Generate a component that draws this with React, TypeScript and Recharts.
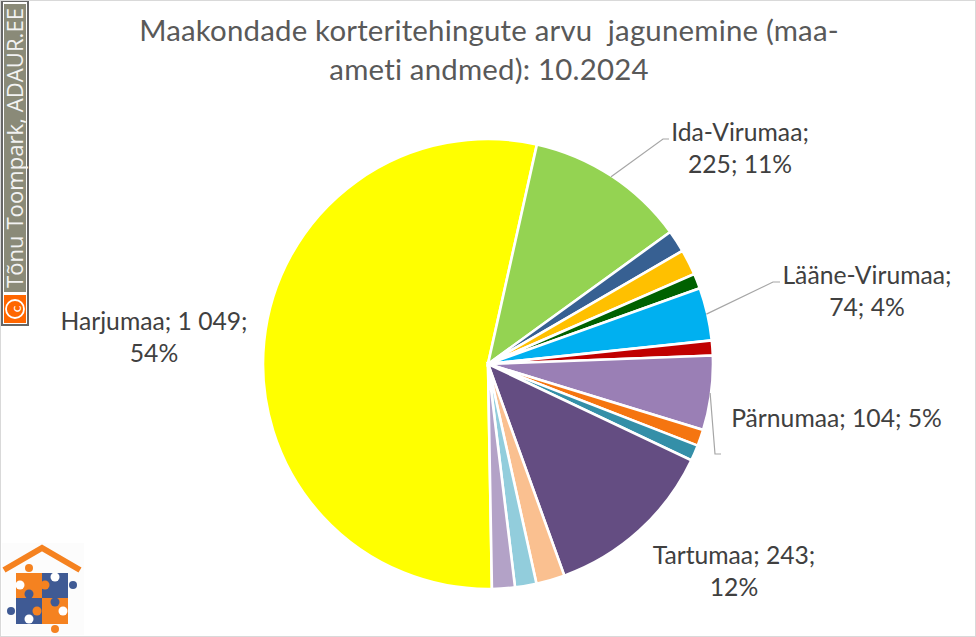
import React from "react";
import { PieChart, Pie, Cell } from "recharts";

const categories = ["Harjumaa","Ida-Virumaa","Jõgevamaa","Järvamaa","Läänemaa","Lääne-Virumaa","Põlvamaa","Pärnumaa","Raplamaa","Saaremaa","Tartumaa","Valgamaa","Viljandimaa","Võrumaa"];
const values = [1049,225,31,36,21,74,21,104,23,22,243,40,30,32];
const colors = ["#FFFF00","#94D352","#376092","#FFC000","#006100","#00B0F0","#C00000","#9A7FB5","#F57510","#348FA8","#644D82","#FAC090","#92CDDC","#B3A2C7"];
const titleLines = ["Maakondade korteritehingute arvu \u00A0jagunemine (maa-","ameti andmed): 10.2024"];
const data = categories.map((name, i) => ({ name, value: values[i] }));

const FONT = "Lato, Carlito, sans-serif";
const LABEL_COLOR = "#404040";

type Layout = { lines: string[]; x: number; y: number; elbow?: [number, number]; end?: [number, number] };
const labelLayout: Record<string, Layout> = {
  Harjumaa: { lines: ["Harjumaa; 1 049;", "54%"], x: 154, y: 323.5 },
  "Ida-Virumaa": { lines: ["Ida-Virumaa;", "225; 11%"], x: 740, y: 135 },
  "Lääne-Virumaa": { lines: ["Lääne-Virumaa;", "74; 4%"], x: 867, y: 278 },
  Pärnumaa: { lines: ["Pärnumaa; 104; 5%"], x: 836.5, y: 420.5 },
  Tartumaa: { lines: ["Tartumaa; 243;", "12%"], x: 734, y: 558 },
};
labelLayout["Ida-Virumaa"].elbow = [663, 139];
labelLayout["Ida-Virumaa"].end = [669, 139];
labelLayout["Lääne-Virumaa"].elbow = [773, 282];
labelLayout["Lääne-Virumaa"].end = [780, 282];
labelLayout["Pärnumaa"].elbow = [715, 454];
labelLayout["Pärnumaa"].end = [721, 454];

function renderLabel(props: any) {
  const { cx, cy, midAngle, outerRadius, name } = props;
  const l = labelLayout[name];
  if (!l) return <g />;
  const a = (midAngle * Math.PI) / 180;
  const px = cx + (outerRadius - 1) * Math.cos(a);
  const py = cy - (outerRadius - 1) * Math.sin(a);
  return (
    <g>
      {l.elbow && l.end && (
        <polyline points={`${px},${py} ${l.elbow[0]},${l.elbow[1]} ${l.end[0]},${l.end[1]}`} fill="none" stroke="#A6A6A6" strokeWidth={1.2} />
      )}
      {l.lines.map((t, i) => (
        <text key={i} x={l.x} y={l.y + i * 32} textAnchor="middle" dominantBaseline="middle" fontFamily={FONT} fontSize={24.7} fill={LABEL_COLOR}>{t}</text>
      ))}
    </g>
  );
}

function Decor() {
  const o = "#F58220", b = "#3F5A94";
  return (
    <svg width={976} height={637} style={{ position: "absolute", left: 0, top: 0, pointerEvents: "none" }}>
      <rect x={1} y={0} width={28} height={326} fill="#666666" />
      <rect x={3} y={2} width={24} height={322} fill="#FFFFFF" />
      <rect x={4} y={4} width={22} height={288} fill="#8A8A78" />
      <rect x={4} y={295} width={22} height={28} fill="#FF6600" />
      <circle cx={15} cy={309} r={9} fill="none" stroke="#FFF" strokeWidth={1.8} />
      <text x={15} y={309} transform="rotate(-90 15 309)" textAnchor="middle" dominantBaseline="central" fontFamily={FONT} fontSize={14} fill="#FFF">c</text>
      <text x={14} y={288} transform="rotate(-90 14 288)" dominantBaseline="central" fontFamily="'Open Sans', sans-serif" fontSize={22} textLength={280} lengthAdjust="spacing" fill="#F2F2F2">Tõnu Toompark, ADAUR.EE</text>
      <rect x={2} y={543} width={82} height={92} fill="#FCFCFC" />
      <polyline points="4,570 42,548 80,570" fill="none" stroke={o} strokeWidth={6} />
      <circle cx={29} cy={568} r={4} fill={o} />
      <circle cx={73} cy={585} r={4} fill={b} />
      <circle cx={11} cy={611} r={4} fill={b} />
      <circle cx={55} cy={629} r={4} fill={o} />
      <rect x={16} y={573} width={26} height={25} fill={o} />
      <rect x={42} y={573} width={26} height={25} fill={b} />
      <rect x={16} y={598} width={26} height={26} fill={b} />
      <rect x={42} y={598} width={26} height={26} fill={o} />
      <circle cx={20} cy={585} r={4.5} fill="#FFF" />
      <circle cx={55} cy={577} r={4.5} fill="#FFF" />
      <circle cx={63} cy={611} r={4.5} fill="#FFF" />
      <circle cx={29} cy={619} r={4.5} fill="#FFF" />
      <circle cx={45} cy={585} r={4.5} fill={o} />
      <circle cx={29} cy={594} r={4.5} fill={b} />
      <circle cx={55} cy={602} r={4.5} fill={b} />
      <circle cx={37} cy={611} r={4.5} fill={o} />
    </svg>
  );
}

export default function App() {
  return (
    <div style={{ position: "absolute", left: 0, top: 0, width: 976, height: 637, background: "#FFF", boxSizing: "border-box", border: "1px solid #D9D9D9", overflow: "hidden" }}>
      <div style={{ position: "absolute", left: -1, top: -1 }}>
        <PieChart width={976} height={637} margin={{ top: 0, right: 0, bottom: 0, left: 0 }}>
          {titleLines.map((t, i) => (
            <text key={i} x={489} y={34 + i * 38.5} textAnchor="middle" dominantBaseline="middle" fontFamily={FONT} fontSize={29.4} letterSpacing={0.2} fill="#595959">{t}</text>
          ))}
          <Pie data={data} dataKey="value" nameKey="name" cx={488} cy={364} outerRadius={225} innerRadius={0}
            startAngle={-89} endAngle={-449} stroke="#FFFFFF" strokeWidth={2.6} isAnimationActive={false}
            labelLine={false} label={renderLabel}>
            {data.map((d, i) => <Cell key={d.name} fill={colors[i]} />)}
          </Pie>
        </PieChart>
        <Decor />
      </div>
    </div>
  );
}
